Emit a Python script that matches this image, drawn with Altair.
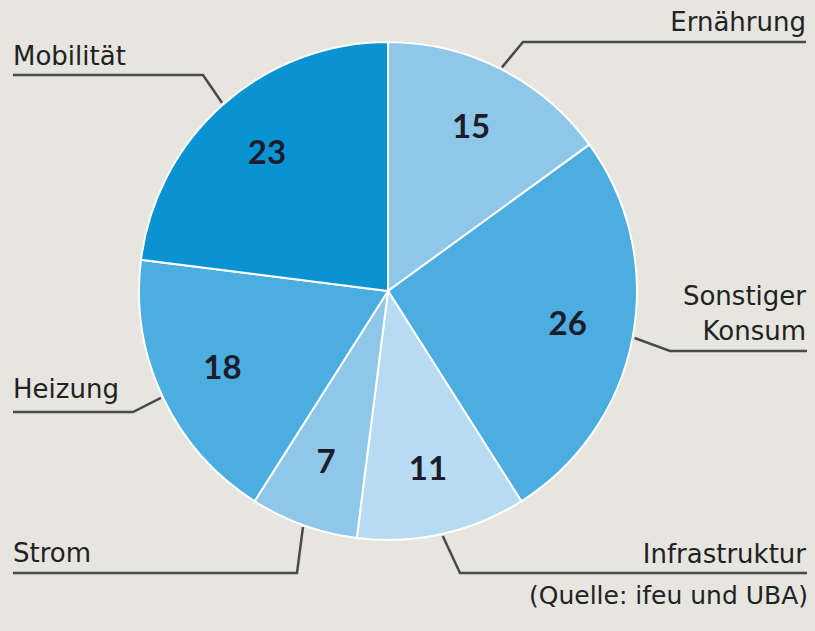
import math
import jinja2
import altair as alt
import pandas as pd

# ---- data ----
labels = ["Ernährung", "Sonstiger Konsum", "Infrastruktur", "Strom", "Heizung", "Mobilität"]
values = [15, 26, 11, 7, 18, 23]
colors = ["#8fc7e9", "#4badE0".lower(), "#b7dcf2", "#8fc7e9", "#4badE0".lower(), "#0a93d3"]

# label text lines (text, x, baseline y, alignment) in page pixels
text_lines = ["Ernährung", "Sonstiger", "Konsum", "Infrastruktur", "Strom", "Heizung", "Mobilität"]
text_x = [806, 806, 806, 806, 13, 13, 13]
text_y = [31, 305, 340, 563, 562, 398, 65]
text_align = ["right", "right", "right", "right", "left", "left", "left"]

# leader line elbow and end points (page pixels)
elbow_x = [523, 670, 460, 297, 133, 203]
elbow_y = [42, 351, 573, 573, 412, 75]
end_x = [806, 808, 808, 13, 13, 13]
end_y = [42, 351, 573, 573, 412, 75]

source = "(Quelle: ifeu und UBA)"

# ---- layout ----
W, H = 799, 615
CX, CY = 388, 291      # pie centre in page pixels
R = 249
R_LINE = 251
R_TEXT = 183
BG = "#e6e5df"

pie_df = pd.DataFrame({"label": labels, "value": values, "order": list(range(len(labels)))})

total = sum(values)
rows = []
cum = 0
for i, (lab, v) in enumerate(zip(labels, values)):
    mid = (cum + v / 2) / total * 2 * math.pi
    cum += v
    sx = CX + R_LINE * math.sin(mid)
    sy = CY - R_LINE * math.cos(mid)
    rows.append({"label": lab, "seq": 0, "x": sx, "y": sy})
    rows.append({"label": lab, "seq": 1, "x": elbow_x[i], "y": elbow_y[i]})
    rows.append({"label": lab, "seq": 2, "x": end_x[i], "y": end_y[i]})
line_df = pd.DataFrame(rows)

text_df = pd.DataFrame({"t": text_lines, "x": text_x, "y": text_y, "align": text_align})
src_df = pd.DataFrame({"t": [source], "x": [808], "y": [604]})

xs = alt.Scale(domain=[8, 8 + W], nice=False, zero=False)
ys = alt.Scale(domain=[8, 8 + H], nice=False, zero=False, reverse=True)

LABEL_FONT = "DejaVu Sans"
NUM_FONT = "Lato"

arcs = alt.Chart(pie_df).mark_arc(outerRadius=R, stroke="white", strokeWidth=2).encode(
    theta=alt.Theta("value:Q", stack=True),
    color=alt.Color("label:N", scale=alt.Scale(domain=labels, range=colors), legend=None),
    order=alt.Order("order:Q"),
    x=alt.value(CX - 8),
    y=alt.value(CY - 8),
)

nums = alt.Chart(pie_df).mark_text(
    radius=R_TEXT, font=NUM_FONT, fontSize=33,
    fontWeight="bold", color="#1c1c2a", baseline="middle", align="center"
).encode(
    theta=alt.Theta("value:Q", stack=True),
    order=alt.Order("order:Q"),
    text=alt.Text("value:Q"),
    x=alt.value(CX - 8),
    y=alt.value(CY - 8),
)

lines = alt.Chart(line_df).mark_line(color="#4a4a4a", strokeWidth=2.5).encode(
    x=alt.X("x:Q", scale=xs, axis=None),
    y=alt.Y("y:Q", scale=ys, axis=None),
    detail="label:N",
    order="seq:Q",
)

left_txt = alt.Chart(text_df[text_df["align"] == "left"]).mark_text(
    align="left", baseline="alphabetic", font=LABEL_FONT, fontSize=26, color="#222222"
).encode(x=alt.X("x:Q", scale=xs, axis=None), y=alt.Y("y:Q", scale=ys, axis=None), text="t:N")

right_txt = alt.Chart(text_df[text_df["align"] == "right"]).mark_text(
    align="right", baseline="alphabetic", font=LABEL_FONT, fontSize=26, color="#222222"
).encode(x=alt.X("x:Q", scale=xs, axis=None), y=alt.Y("y:Q", scale=ys, axis=None), text="t:N")

src_txt = alt.Chart(src_df).mark_text(
    align="right", baseline="alphabetic", font=LABEL_FONT, fontSize=25, color="#222222"
).encode(x=alt.X("x:Q", scale=xs, axis=None), y=alt.Y("y:Q", scale=ys, axis=None), text="t:N")

chart = alt.layer(arcs, nums, lines, left_txt, right_txt, src_txt).properties(
    width=W, height=H, padding=0, autosize="none", background=BG
).configure_view(stroke=None)

# page template identical to the standard one, with the page background matching the chart
PAGE = jinja2.Template("""<!DOCTYPE html>
<html>
<head>
  <style>
    body { background: """ + BG + """; }
    .error { color: red; }
  </style>
  <script type="text/javascript" src="{{ base_url }}/vega@{{ vega_version }}"></script>
  <script type="text/javascript" src="{{ base_url }}/vega-lite@{{ vegalite_version }}"></script>
  <script type="text/javascript" src="{{ base_url }}/vega-embed@{{ vegaembed_version }}"></script>
</head>
<body>
  <div id="{{ output_div }}"></div>
  <script>
    (function(vegaEmbed) {
      var spec = {{ spec }};
      var embedOpt = {{ embed_options }};
      function showError(el, error){
          el.innerHTML = ('<div class="error" style="color:red;">'
                          + '<p>JavaScript Error: ' + error.message + '</p>'
                          + "<p>This usually means there's a typo in your chart specification. "
                          + "See the javascript console for the full traceback.</p>"
                          + '</div>');
          throw error;
      }
      const el = document.getElementById('{{ output_div }}');
      vegaEmbed("#{{ output_div }}", spec, embedOpt)
        .catch(error => showError(el, error));
    })(vegaEmbed);
  </script>
</body>
</html>
""")

chart.save("out.html", embed_options={"renderer": "svg", "actions": False}, template=PAGE)
